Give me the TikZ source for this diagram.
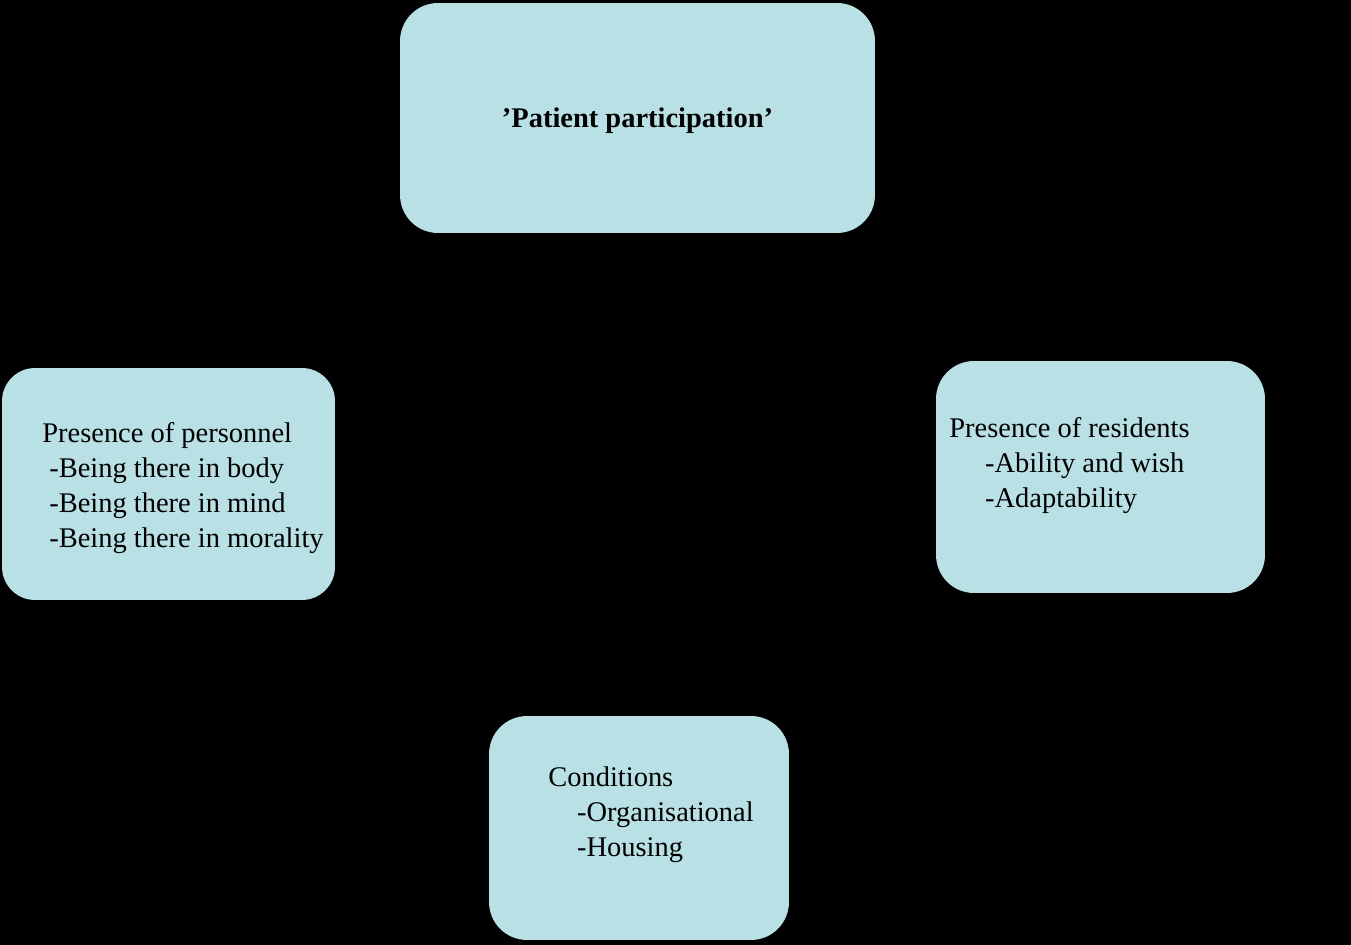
\documentclass[tikz,border=0pt]{standalone}
\usepackage{fontspec}
\setmainfont{Liberation Serif}
\usepackage{tikz}
\usetikzlibrary{positioning}
\definecolor{ppblue}{RGB}{185,224,228}
\tikzset{
  theme/.style={draw=none, fill=ppblue, rounded corners=0.76cm, inner sep=0pt},
  txt/.style={align=left, inner sep=0pt, anchor=base west,
              font=\fontsize{16.2pt}{19.8pt}\selectfont},
}
\begin{document}
\begin{tikzpicture}[x=0.02cm, y=-0.02cm]
\fill[black] (0,0) rectangle (1351,945);
\useasboundingbox (0,0) rectangle (1351,945);
% the four themes
\node[theme, minimum width=9.5cm, minimum height=4.6cm] (part) at (637.5,118) {};
\node[theme, minimum width=6.66cm, minimum height=4.64cm, rounded corners=0.66cm] (pers) at (168.5,484) {};
\node[theme, minimum width=6.58cm, minimum height=4.64cm] (resi) at (1100.5,477) {};
\node[theme, minimum width=6.0cm, minimum height=4.48cm] (cond) at (639,828) {};
% texts (base anchor sits on the last line)
\node[txt, anchor=base] (parttxt) at (637.5,128) {\textbf{’Patient participation’}};
\node[txt] (perstxt) at (42,547) {Presence of personnel\\
  \hspace{3.97pt}-Being there in body\\
  \hspace{3.97pt}-Being there in mind\\
  \hspace{3.97pt}-Being there in morality};
\node[txt] (resitxt) at (949,507) {Presence of residents\\
  \hspace{20.4pt}-Ability and wish\\
  \hspace{20.4pt}-Adaptability};
\node[txt] (condtxt) at (548,856) {Conditions\\
  \hspace{16.4pt}-Organisational\\
  \hspace{16.4pt}-Housing};
\end{tikzpicture}
\end{document}
